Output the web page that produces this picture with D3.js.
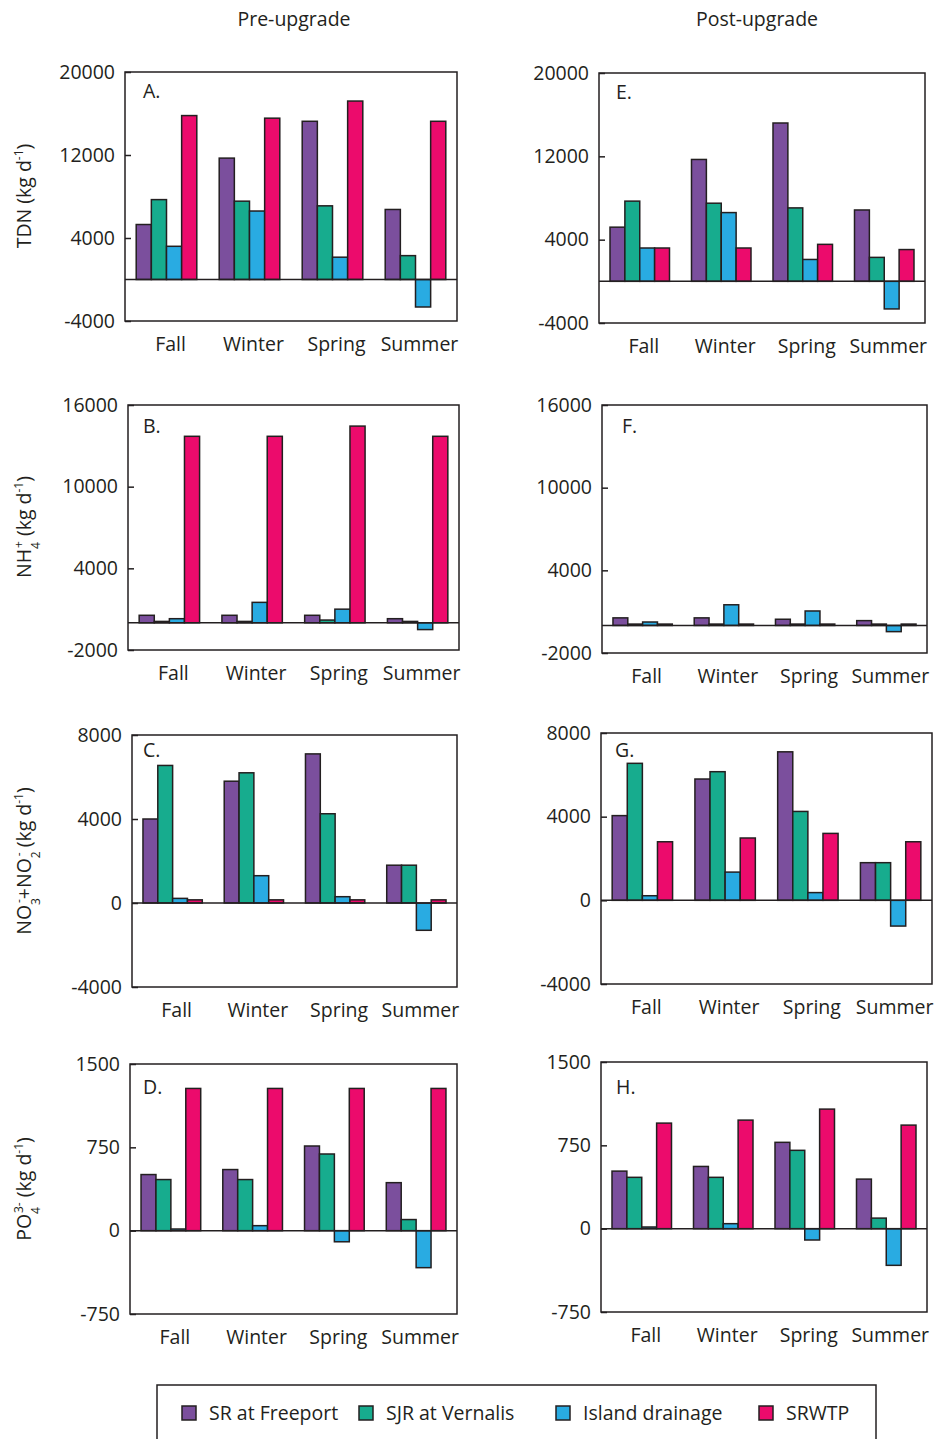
<!DOCTYPE html>
<html>
<head>
<meta charset="utf-8">
<script src="https://cdn.jsdelivr.net/npm/d3@7"></script>
<style>
  body { margin: 0; background: #fff; }
  svg { font-family: "Open Sans", sans-serif; }
</style>
</head>
<body>
<div id="chart"></div>
<script>
// seasons and sources
const seasons = ["Fall", "Winter", "Spring", "Summer"];
const sources = ["SR at Freeport", "SJR at Vernalis", "Island drainage", "SRWTP"];
const colors = ["#7b4f9d", "#17ac8e", "#29abe2", "#ec0b6c"];

// loads (kg/d), rows = season, cols = source
const tdnPre  = [[5300, 7700, 3200, 15800], [11700, 7550, 6600, 15550], [15250, 7100, 2150, 17200], [6750, 2300, -2650, 15250]];
const tdnPost = [[5200, 7700, 3200, 3200], [11700, 7500, 6600, 3200], [15200, 7050, 2100, 3550], [6850, 2300, -2650, 3050]];
const nh4Pre  = [[550, 100, 300, 13700], [550, 100, 1500, 13700], [550, 200, 1000, 14450], [300, 100, -500, 13700]];
const nh4Post = [[550, 100, 250, 100], [550, 100, 1500, 100], [450, 100, 1050, 100], [350, 100, -450, 100]];
const noxPre  = [[4000, 6550, 220, 150], [5800, 6200, 1300, 150], [7100, 4250, 300, 150], [1800, 1800, -1300, 150]];
const noxPost = [[4050, 6550, 220, 2800], [5800, 6150, 1350, 2980], [7100, 4250, 370, 3200], [1800, 1800, -1230, 2800]];
const po4Pre  = [[505, 460, 15, 1280], [550, 460, 45, 1280], [762, 690, -100, 1280], [432, 100, -333, 1280]];
const po4Post = [[518, 462, 15, 950], [560, 462, 45, 977], [777, 705, -102, 1076], [446, 95, -330, 932]];

// tick labels
const tdnTicks = [-4000, 4000, 12000, 20000];
const nh4Ticks = [-2000, 4000, 10000, 16000];
const noxTicks = [-4000, 0, 4000, 8000];
const po4Ticks = [-750, 0, 750, 1500];

const W = 935, H = 1439;
const svg = d3.select("#chart").append("svg")
    .attr("width", W)
    .attr("height", H);

const ink = "#231f20";
const fs = "19.5px";

svg.append("text").attr("x", 294).attr("y", 26).attr("text-anchor", "middle")
    .style("font-size", fs).style("fill", ink).text("Pre-upgrade");
svg.append("text").attr("x", 757).attr("y", 26).attr("text-anchor", "middle")
    .style("font-size", fs).style("fill", ink).text("Post-upgrade");

let panels = [
    { id: "A.", data: tdnPre,  ticks: tdnTicks, x0: 125, x1: 457, y0: 72,  y1: 321, lx: 143, ly: 98 },
    { id: "E.", data: tdnPost, ticks: tdnTicks, x0: 599, x1: 925, y0: 73,  y1: 323, lx: 616, ly: 99 },
    { id: "B.", data: nh4Pre,  ticks: nh4Ticks, x0: 128, x1: 459, y0: 405, y1: 650, lx: 143, ly: 433 },
    { id: "F.", data: nh4Post, ticks: nh4Ticks, x0: 602, x1: 927, y0: 405, y1: 653, lx: 622, ly: 433 },
    { id: "C.", data: noxPre,  ticks: noxTicks, x0: 132, x1: 457, y0: 735, y1: 987, lx: 143, ly: 757 },
    { id: "G.", data: noxPost, ticks: noxTicks, x0: 601, x1: 932, y0: 733, y1: 984, lx: 615, ly: 757 },
    { id: "D.", data: po4Pre,  ticks: po4Ticks, x0: 130, x1: 457, y0: 1064, y1: 1314, lx: 143, ly: 1094 },
    { id: "H.", data: po4Post, ticks: po4Ticks, x0: 601, x1: 927, y0: 1062, y1: 1312, lx: 616, ly: 1094 }
];

panels.forEach(p => {
    let g = svg.append("g");

    let x = d3.scaleBand()
        .domain(seasons)
        .range([p.x0, p.x1])
        .paddingInner(0.27)
        .paddingOuter(0.135);

    let xs = d3.scaleBand()
        .domain(sources)
        .range([0, x.bandwidth()]);

    let y = d3.scaleLinear()
        .domain(d3.extent(p.ticks))
        .range([p.y1, p.y0]);

    // bars
    seasons.forEach((s, i) => {
        g.selectAll(null)
            .data(p.data[i])
            .enter()
            .append("rect")
            .attr("x", (d, j) => x(s) + xs(sources[j]))
            .attr("y", d => y(Math.max(0, d)))
            .attr("width", xs.bandwidth())
            .attr("height", d => Math.abs(y(d) - y(0)))
            .attr("fill", (d, j) => colors[j])
            .attr("stroke", ink)
            .attr("stroke-width", 1.5);
    });

    // zero line
    g.append("line")
        .attr("x1", p.x0).attr("x2", p.x1)
        .attr("y1", y(0)).attr("y2", y(0))
        .attr("stroke", ink).attr("stroke-width", 1.5);

    // y axis, ticks pointing inward
    let ax = g.append("g")
        .attr("transform", `translate(${p.x0},0)`)
        .call(d3.axisLeft(y).tickValues(p.ticks).tickSize(-6).tickPadding(10).tickFormat(d => String(d)));
    ax.select(".domain").remove();
    ax.selectAll("line").attr("stroke", ink).attr("stroke-width", 1.5);
    ax.selectAll("text")
        .style("font-size", fs)
        .style("font-family", "Open Sans, sans-serif")
        .style("fill", ink);

    // frame
    g.append("rect")
        .attr("x", p.x0).attr("y", p.y0)
        .attr("width", p.x1 - p.x0).attr("height", p.y1 - p.y0)
        .attr("fill", "none")
        .attr("stroke", ink).attr("stroke-width", 1.5);

    // season labels
    g.selectAll(".season")
        .data(seasons)
        .enter()
        .append("text")
        .attr("x", d => x(d) + x.bandwidth() / 2 + 4)
        .attr("y", p.y1 + 30)
        .attr("text-anchor", "middle")
        .style("font-size", fs)
        .style("fill", ink)
        .text(d => d);

    // panel letter
    g.append("text")
        .attr("x", p.lx)
        .attr("y", p.ly)
        .style("font-size", fs)
        .style("fill", ink)
        .text(p.id);
});

// y axis titles: list of [text, shift, dx] parts
function yTitle(cy, parts) {
    let t = svg.append("text")
        .attr("transform", `translate(31,${cy}) rotate(-90)`)
        .attr("text-anchor", "middle")
        .style("font-size", fs)
        .style("fill", ink);
    parts.forEach(([s, kind, dx]) => {
        let ts = t.append("tspan").text(s);
        if (kind === "sup") ts.attr("baseline-shift", "super").style("font-size", "12px");
        if (kind === "sub") ts.attr("baseline-shift", "sub").style("font-size", "12px");
        if (dx) ts.attr("dx", dx);
    });
}

yTitle(196, [["TDN (kg d"], ["-1", "sup"], [")"]]);
yTitle(527, [["NH"], ["4", "sub"], ["+", "sup", -6], [" (kg d"], ["-1", "sup"], [")"]]);
yTitle(861, [["NO"], ["3", "sub"], ["-", "sup", -5], ["+NO"], ["2", "sub"], ["-", "sup", -5], [" (kg d"], ["-1", "sup"], [")"]]);
yTitle(1189, [["PO"], ["4", "sub"], ["3-", "sup", -6], [" (kg d"], ["-1", "sup"], [")"]]);

// legend
let legend = svg.append("g");
legend.append("rect")
    .attr("x", 157).attr("y", 1385)
    .attr("width", 719).attr("height", 70)
    .attr("fill", "none")
    .attr("stroke", ink).attr("stroke-width", 1.5);

let legX = [182, 359, 556, 759];
sources.forEach((s, i) => {
    legend.append("rect")
        .attr("x", legX[i]).attr("y", 1406)
        .attr("width", 14).attr("height", 14)
        .attr("fill", colors[i])
        .attr("stroke", ink).attr("stroke-width", 1.5);
    legend.append("text")
        .attr("x", legX[i] + 27).attr("y", 1420)
        .style("font-size", fs)
        .style("fill", ink)
        .text(s);
});
</script>
</body>
</html>
